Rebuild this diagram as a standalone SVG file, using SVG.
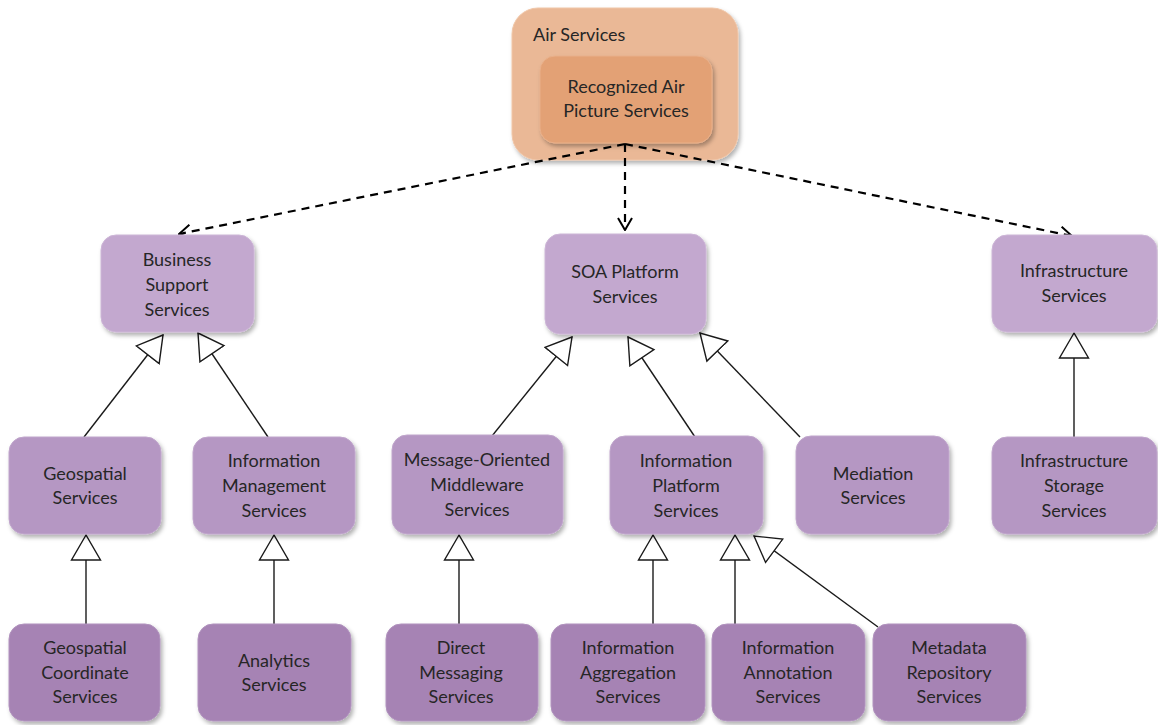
<svg xmlns="http://www.w3.org/2000/svg" width="1158" height="725" viewBox="0 0 1158 725">
  <style>
    .lbl { font-family: Lato, "Open Sans", "Liberation Sans", sans-serif; font-size: 18px; fill: #262626; text-anchor: middle; }
    .l1 { fill: #C3A8CF; stroke: #CDB6D7; stroke-width: 1; }
    .l2 { fill: #B597C3; stroke: #C0A6CC; stroke-width: 1; }
    .l3 { fill: #A683B4; stroke: #B193BE; stroke-width: 1; }
    .gen { stroke: #1a1a1a; stroke-width: 1.4; fill: none; marker-end: url(#hollow); }
    .dep { stroke: #000; stroke-width: 2.2; stroke-dasharray: 8 6; fill: none; marker-end: url(#open); }
  </style>
  <defs>
    <filter id="shadow" x="-10%" y="-10%" width="125%" height="130%">
      <feDropShadow dx="2" dy="3" stdDeviation="2" flood-color="#000" flood-opacity="0.3"/>
    </filter>
    <marker id="hollow" viewBox="0 0 27 32" refX="26" refY="16" markerWidth="27" markerHeight="32" markerUnits="userSpaceOnUse" orient="auto">
      <path d="M26,16 L1,1.5 L1,30.5 Z" fill="#fff" stroke="#1a1a1a" stroke-width="1.4"/>
    </marker>
    <marker id="open" viewBox="0 0 14 16" refX="13" refY="8" markerWidth="14" markerHeight="16" markerUnits="userSpaceOnUse" orient="auto">
      <path d="M1,1 L13,8 L1,15" fill="none" stroke="#000" stroke-width="2"/>
    </marker>
  </defs>

  <rect width="1158" height="725" fill="#fff"/>

  <!-- top container -->
  <g id="air-services">
    <rect x="512" y="8" width="226" height="152" rx="26" fill="#EAB896" stroke="#F0C6A8" filter="url(#shadow)"/>
    <text class="lbl" x="533" y="41" style="text-anchor:start">Air Services</text>
  </g>
  <g id="recognized-air-picture">
    <rect x="540" y="56" width="172" height="87" rx="15" fill="#E3A174" stroke="#E9B08A" filter="url(#shadow)"/>
    <text class="lbl" x="626" y="93">Recognized Air</text>
    <text class="lbl" x="626" y="117">Picture Services</text>
  </g>

  <!-- connectors -->
  <g id="connectors">
    <path class="dep" d="M625,144 L179,234"/>
    <path class="dep" d="M625,144 L625,230"/>
    <path class="dep" d="M625,144 L1072,236"/>

    <path class="gen" d="M84,437 L163,335"/>
    <path class="gen" d="M268,437 L198,333"/>
    <path class="gen" d="M492,436 L572,337"/>
    <path class="gen" d="M695,437 L628,337"/>
    <path class="gen" d="M800,437 L700,333"/>
    <path class="gen" d="M1074,437 L1074,333"/>

    <path class="gen" d="M86,624 L86,535"/>
    <path class="gen" d="M274,624 L274,535"/>
    <path class="gen" d="M459,624 L459,535"/>
    <path class="gen" d="M653,624 L653,535"/>
    <path class="gen" d="M735,624 L735,535"/>
    <path class="gen" d="M878,627 L754,536"/>
  </g>

  <!-- second level -->
  <g id="business-support">
    <rect class="l1" x="101" y="235" width="153" height="97" rx="15" filter="url(#shadow)"/>
    <text class="lbl" x="177" y="266">Business</text>
    <text class="lbl" x="177" y="291">Support</text>
    <text class="lbl" x="177" y="316">Services</text>
  </g>
  <g id="soa-platform">
    <rect class="l1" x="545" y="234" width="161" height="100" rx="15" filter="url(#shadow)"/>
    <text class="lbl" x="625" y="278">SOA Platform</text>
    <text class="lbl" x="625" y="303">Services</text>
  </g>
  <g id="infrastructure">
    <rect class="l1" x="992" y="235" width="165" height="97" rx="15" filter="url(#shadow)"/>
    <text class="lbl" x="1074" y="277">Infrastructure</text>
    <text class="lbl" x="1074" y="302">Services</text>
  </g>

  <!-- third level -->
  <g id="geospatial">
    <rect class="l2" x="9" y="437" width="152" height="97" rx="15" filter="url(#shadow)"/>
    <text class="lbl" x="85" y="480">Geospatial</text>
    <text class="lbl" x="85" y="504">Services</text>
  </g>
  <g id="information-management">
    <rect class="l2" x="193" y="437" width="162" height="97" rx="15" filter="url(#shadow)"/>
    <text class="lbl" x="274" y="467">Information</text>
    <text class="lbl" x="274" y="492">Management</text>
    <text class="lbl" x="274" y="517">Services</text>
  </g>
  <g id="message-oriented-middleware">
    <rect class="l2" x="392" y="435" width="171" height="99" rx="15" filter="url(#shadow)"/>
    <text class="lbl" x="477" y="466">Message-Oriented</text>
    <text class="lbl" x="477" y="491">Middleware</text>
    <text class="lbl" x="477" y="516">Services</text>
  </g>
  <g id="information-platform">
    <rect class="l2" x="610" y="436" width="153" height="98" rx="15" filter="url(#shadow)"/>
    <text class="lbl" x="686" y="467">Information</text>
    <text class="lbl" x="686" y="492">Platform</text>
    <text class="lbl" x="686" y="517">Services</text>
  </g>
  <g id="mediation">
    <rect class="l2" x="796" y="436" width="153" height="98" rx="15" filter="url(#shadow)"/>
    <text class="lbl" x="873" y="480">Mediation</text>
    <text class="lbl" x="873" y="504">Services</text>
  </g>
  <g id="infrastructure-storage">
    <rect class="l2" x="992" y="437" width="165" height="97" rx="15" filter="url(#shadow)"/>
    <text class="lbl" x="1074" y="467">Infrastructure</text>
    <text class="lbl" x="1074" y="492">Storage</text>
    <text class="lbl" x="1074" y="517">Services</text>
  </g>

  <!-- fourth level -->
  <g id="geospatial-coordinate">
    <rect class="l3" x="9" y="624" width="151" height="97" rx="15" filter="url(#shadow)"/>
    <text class="lbl" x="85" y="654">Geospatial</text>
    <text class="lbl" x="85" y="679">Coordinate</text>
    <text class="lbl" x="85" y="703">Services</text>
  </g>
  <g id="analytics">
    <rect class="l3" x="198" y="624" width="153" height="97" rx="15" filter="url(#shadow)"/>
    <text class="lbl" x="274" y="667">Analytics</text>
    <text class="lbl" x="274" y="691">Services</text>
  </g>
  <g id="direct-messaging">
    <rect class="l3" x="386" y="624" width="152" height="97" rx="15" filter="url(#shadow)"/>
    <text class="lbl" x="461" y="654">Direct</text>
    <text class="lbl" x="461" y="679">Messaging</text>
    <text class="lbl" x="461" y="703">Services</text>
  </g>
  <g id="information-aggregation">
    <rect class="l3" x="551" y="624" width="154" height="97" rx="15" filter="url(#shadow)"/>
    <text class="lbl" x="628" y="654">Information</text>
    <text class="lbl" x="628" y="679">Aggregation</text>
    <text class="lbl" x="628" y="703">Services</text>
  </g>
  <g id="information-annotation">
    <rect class="l3" x="712" y="624" width="153" height="97" rx="15" filter="url(#shadow)"/>
    <text class="lbl" x="788" y="654">Information</text>
    <text class="lbl" x="788" y="679">Annotation</text>
    <text class="lbl" x="788" y="703">Services</text>
  </g>
  <g id="metadata-repository">
    <rect class="l3" x="873" y="624" width="153" height="97" rx="15" filter="url(#shadow)"/>
    <text class="lbl" x="949" y="654">Metadata</text>
    <text class="lbl" x="949" y="679">Repository</text>
    <text class="lbl" x="949" y="703">Services</text>
  </g>
</svg>
